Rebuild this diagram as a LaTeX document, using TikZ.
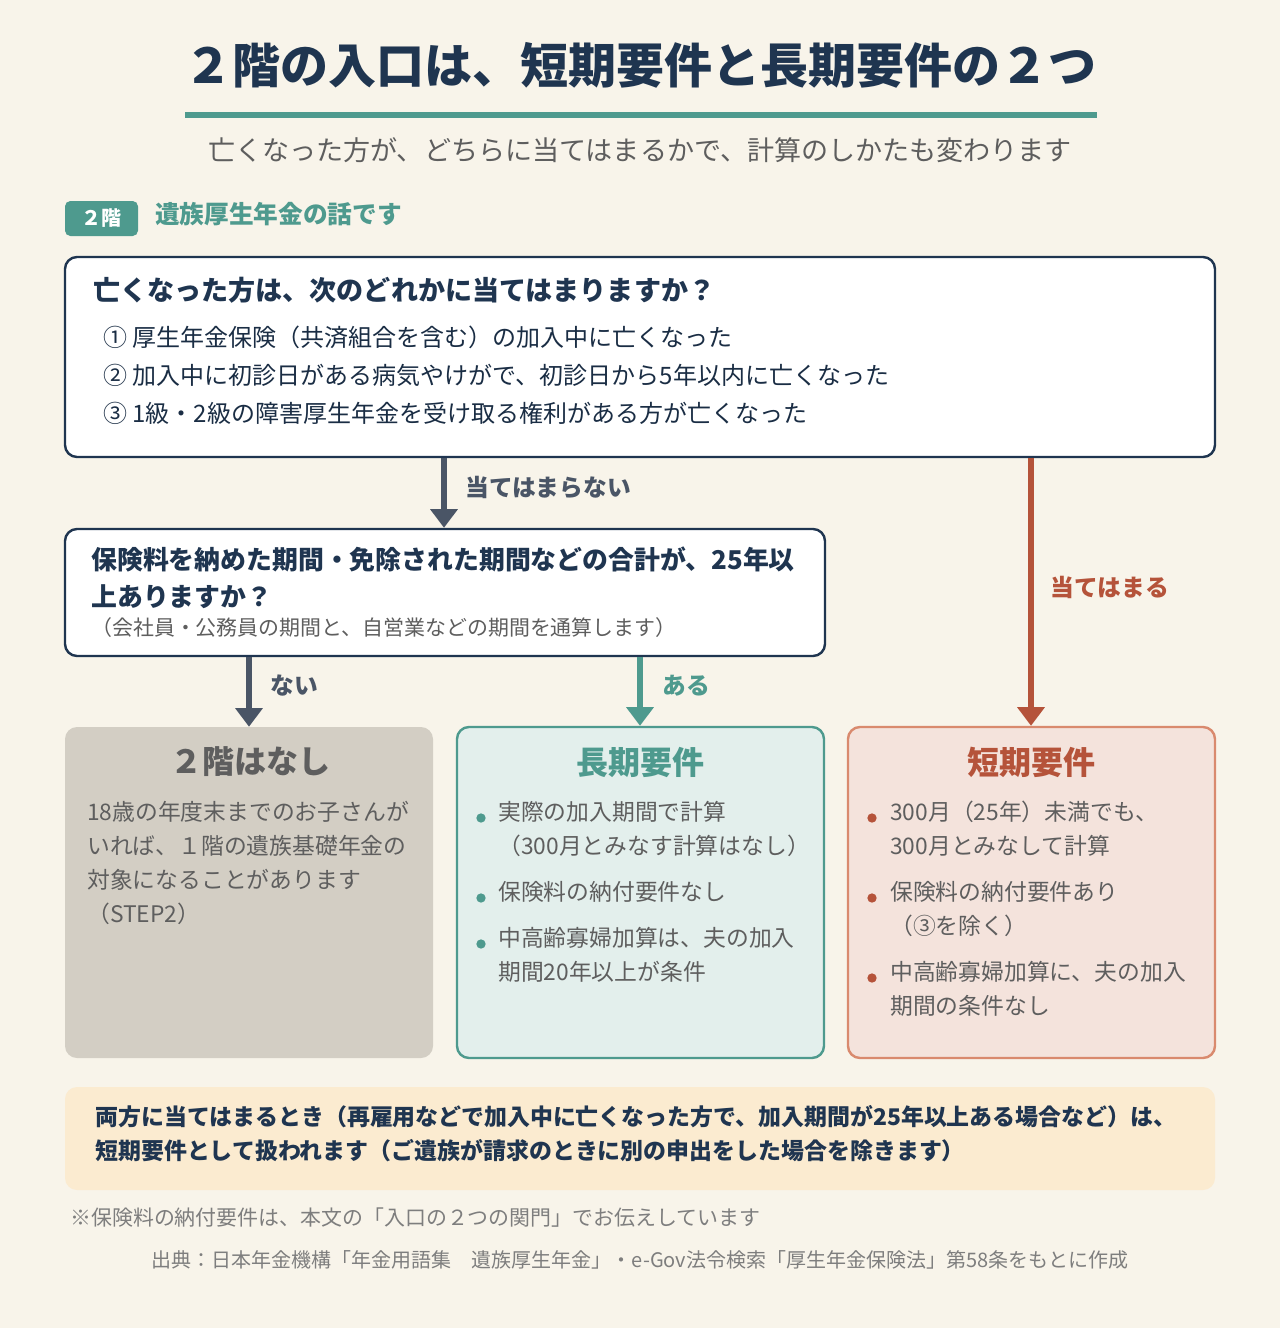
\documentclass[tikz,border=0pt]{standalone}
\usepackage{fontspec}
\setmainfont{Noto Sans CJK JP}
\usetikzlibrary{arrows.meta,positioning}
\definecolor{bgcream}{HTML}{F8F4EA}
\definecolor{navy}{HTML}{1F3550}
\definecolor{teal}{HTML}{4E9A8E}
\definecolor{rust}{HTML}{B5533A}
\definecolor{slate}{HTML}{4A5566}
\definecolor{greybox}{HTML}{D3CEC4}
\definecolor{tealbox}{HTML}{E3EFEC}
\definecolor{rustbox}{HTML}{F4E3DC}
\definecolor{rustline}{HTML}{D98A6E}
\definecolor{notebox}{HTML}{FBEBD0}
\definecolor{txtgrey}{HTML}{5E5E5E}
\newcommand{\fs}[1]{\fontsize{#1}{#1}\selectfont}
\tikzset{
  panel/.style={rounded corners=9pt, line width=1.8pt},
  flow/.style={line width=4.5pt, -{Triangle[width=20pt,length=14pt]}},
  body/.style={anchor=west, inner sep=0pt, font=\fs{17.1pt}, text=navy!85!black},
  lbl/.style={anchor=west, inner sep=0pt, font=\fs{17.8pt}\bfseries},
  dot/.style={circle, inner sep=0pt, minimum size=7pt},
}
\begin{document}
\begin{tikzpicture}[x=0.75pt,y=-0.75pt]
  \fill[bgcream] (0,0) rectangle (1280,1328);
  \useasboundingbox (0,0) rectangle (1280,1328);

  % heading
  \node[font=\fs{36pt}\bfseries, text=navy] (title) at (640,65) {２階の入口は、短期要件と長期要件の２つ};
  \draw[teal, line width=4.5pt] (185,115) -- (1097,115);
  \node[font=\fs{20.3pt}, text=txtgrey] (sub) at (640,150) {亡くなった方が、どちらに当てはまるかで、計算のしかたも変わります};
  \node[fill=teal, rounded corners=4pt, minimum width=73*0.75pt, minimum height=35*0.75pt,
        text=white, font=\fs{15pt}\bfseries, inner sep=0pt] (badge) at (101.5,218.5) {２階};
  \node[lbl, text=teal, font=\fs{18.5pt}\bfseries] (badgetxt) at (155,214) {遺族厚生年金の話です};

  % first question
  \node[panel, draw=navy, fill=white, minimum width=1150*0.75pt, minimum height=200*0.75pt] (q1) at (640,357) {};
  \node[lbl, text=navy, font=\fs{20.3pt}\bfseries] (q1t) at (93,290) {亡くなった方は、次のどれかに当てはまりますか？};
  \node[body, font=\fs{18pt}] (c1) at (103,337) {① 厚生年金保険（共済組合を含む）の加入中に亡くなった};
  \node[body, font=\fs{18pt}] (c2) at (103,375) {② 加入中に初診日がある病気やけがで、初診日から5年以内に亡くなった};
  \node[body, font=\fs{18pt}] (c3) at (103,413) {③ 1級・2級の障害厚生年金を受け取る権利がある方が亡くなった};

  % second question
  \node[panel, draw=navy, fill=white, minimum width=760*0.75pt, minimum height=127*0.75pt] (q2) at (445,592.5) {};
  \node[lbl, text=navy, font=\fs{19.4pt}\bfseries] (q2a) at (91,559) {保険料を納めた期間・免除された期間などの合計が、25年以};
  \node[lbl, text=navy, font=\fs{19.4pt}\bfseries] (q2b) at (91,597) {上ありますか？};
  \node[body, font=\fs{15.7pt}, text=txtgrey] (q2c) at (91,628) {（会社員・公務員の期間と、自営業などの期間を通算します）};

  % result panels
  \node[fill=greybox, rounded corners=9pt, minimum width=368*0.75pt, minimum height=331*0.75pt] (none) at (249,892.5) {};
  \node[panel, draw=teal, fill=tealbox, minimum width=367*0.75pt, minimum height=331*0.75pt] (long) at (640.5,892.5) {};
  \node[panel, draw=rustline, fill=rustbox, minimum width=367*0.75pt, minimum height=331*0.75pt] (short) at (1031.5,892.5) {};

  % connectors
  \coordinate (a1) at (444,0);
  \coordinate (a2) at (1031,0);
  \draw[flow, slate] (q1.south -| a1) -- (q2.north -| a1);
  \node[lbl, text=slate] (l1) at (465,488) {当てはまらない};
  \draw[flow, rust] (q1.south -| a2) -- (short.north -| a2);
  \node[lbl, anchor=center, text=rust] (l2) at (1110,587) {当てはまる};
  \coordinate (a3) at (249,0);
  \coordinate (a4) at (640,0);
  \draw[flow, slate] (q2.south -| a3) -- (none.north -| a3);
  \node[lbl, text=slate] (l3) at (270,686) {ない};
  \draw[flow, teal] (q2.south -| a4) -- (long.north -| a4);
  \node[lbl, text=teal] (l4) at (662,686) {ある};

  % panel: none
  \node[font=\fs{24pt}\bfseries, text=txtgrey] (noneh) at (250,762) {２階はなし};
  \foreach \y/\t in {812/18歳の年度末までのお子さんが, 846/いれば、１階の遺族基礎年金の,
                     880/対象になることがあります, 914/（STEP2）}
    \node[body, text=txtgrey] at (87,\y) {\t};

  % panel: long
  \node[font=\fs{24pt}\bfseries, text=teal] (longh) at (640,762) {長期要件};
  \foreach \y in {818,898,944} \node[dot, fill=teal] at (481,\y) {};
  \foreach \y/\t in {812/実際の加入期間で計算, 846/（300月とみなす計算はなし）, 892/保険料の納付要件なし,
                     938/中高齢寡婦加算は、夫の加入, 972/期間20年以上が条件}
    \node[body, text=txtgrey] at (498,\y) {\t};

  % panel: short
  \node[font=\fs{24pt}\bfseries, text=rust] (shorth) at (1031,762) {短期要件};
  \foreach \y in {818,898,978} \node[dot, fill=rust] at (872,\y) {};
  \foreach \y/\t in {812/300月（25年）未満でも、, 846/300月とみなして計算, 892/保険料の納付要件あり,
                     926/（③を除く）, 972/中高齢寡婦加算に、夫の加入, 1006/期間の条件なし}
    \node[body, text=txtgrey] at (890,\y) {\t};

  % note
  \node[fill=notebox, rounded corners=9pt, minimum width=1150*0.75pt, minimum height=103*0.75pt] (note) at (640,1138.5) {};
  \node[lbl, text=navy, font=\fs{17.2pt}\bfseries] (n1) at (95,1117) {両方に当てはまるとき（再雇用などで加入中に亡くなった方で、加入期間が25年以上ある場合など）は、};
  \node[lbl, text=navy, font=\fs{17.2pt}\bfseries] (n2) at (95,1151) {短期要件として扱われます（ご遺族が請求のときに別の申出をした場合を除きます）};

  % footer
  \node[body, font=\fs{15.7pt}, text=txtgrey!80] (foot) at (70,1218) {※保険料の納付要件は、本文の「入口の２つの関門」でお伝えしています};
  \node[font=\fs{15pt}, text=txtgrey!80] (src) at (640,1260) {出典：日本年金機構「年金用語集　遺族厚生年金」・e-Gov法令検索「厚生年金保険法」第58条をもとに作成};
\end{tikzpicture}
\end{document}
